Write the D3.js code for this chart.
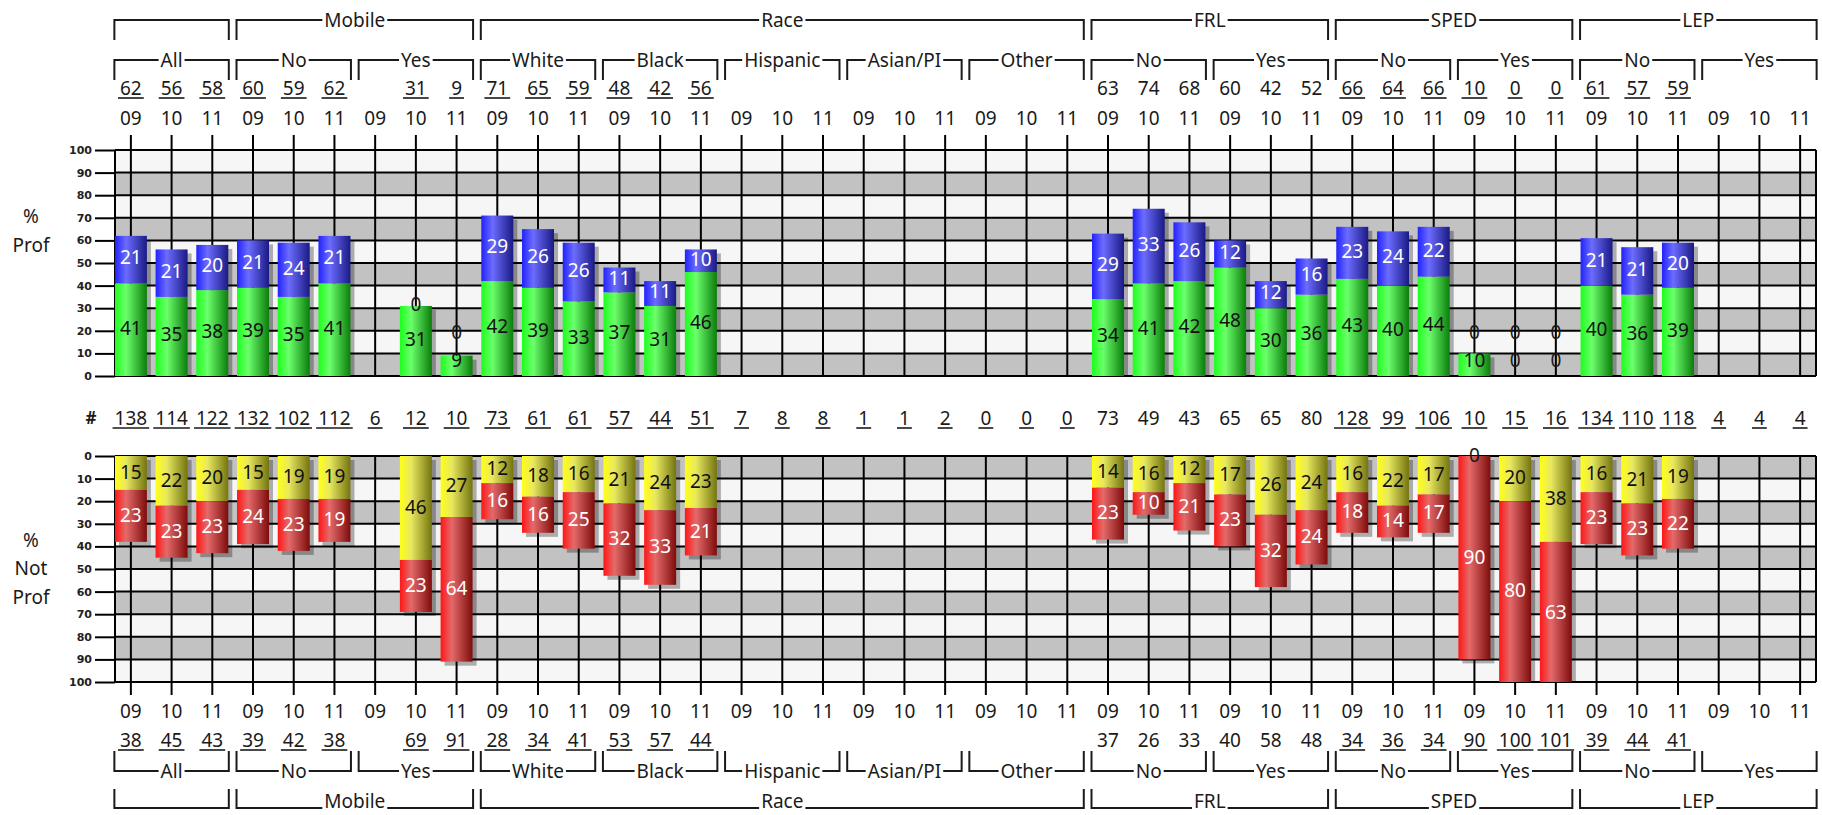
<!DOCTYPE html>
<html>
<head>
<meta charset="utf-8">
<script src="https://cdn.jsdelivr.net/npm/d3@7"></script>
<style>
    body { margin: 0; background: #fff; }
    text { font-family: "Noto Sans", sans-serif; fill: #1a1a1a; }
</style>
</head>
<body>
<div id="display"></div>
<script>
// ---- data ----
const groupNames = ['', 'Mobile', 'Race', 'FRL', 'SPED', 'LEP'];
const groupSubCount = [1, 2, 5, 2, 2, 2];
const subgroupNames = ['All', 'No', 'Yes', 'White', 'Black', 'Hispanic', 'Asian/PI', 'Other',
    'No', 'Yes', 'No', 'Yes', 'No', 'Yes'];
const years = ['09', '10', '11'];
// subgroups whose numbers are printed without underline (FRL)
const plainSubgroups = [8, 9];

const N = null;
// % proficient: lower (green) and upper (blue) segments, total above
const profLower = [41, 35, 38, 39, 35, 41, N, 31, 9, 42, 39, 33, 37, 31, 46,
    N, N, N, N, N, N, N, N, N, 34, 41, 42, 48, 30, 36, 43, 40, 44, 10, 0, 0, 40, 36, 39, N, N, N];
const profUpper = [21, 21, 20, 21, 24, 21, N, 0, 0, 29, 26, 26, 11, 11, 10,
    N, N, N, N, N, N, N, N, N, 29, 33, 26, 12, 12, 16, 23, 24, 22, 0, 0, 0, 21, 21, 20, N, N, N];
const profTotal = [62, 56, 58, 60, 59, 62, N, 31, 9, 71, 65, 59, 48, 42, 56,
    N, N, N, N, N, N, N, N, N, 63, 74, 68, 60, 42, 52, 66, 64, 66, 10, 0, 0, 61, 57, 59, N, N, N];
// number of students
const counts = [138, 114, 122, 132, 102, 112, 6, 12, 10, 73, 61, 61, 57, 44, 51,
    7, 8, 8, 1, 1, 2, 0, 0, 0, 73, 49, 43, 65, 65, 80, 128, 99, 106, 10, 15, 16, 134, 110, 118, 4, 4, 4];
// % not proficient: near (yellow) and far (red) segments, total below
const notProfNear = [15, 22, 20, 15, 19, 19, N, 46, 27, 12, 18, 16, 21, 24, 23,
    N, N, N, N, N, N, N, N, N, 14, 16, 12, 17, 26, 24, 16, 22, 17, 0, 20, 38, 16, 21, 19, N, N, N];
const notProfFar = [23, 23, 23, 24, 23, 19, N, 23, 64, 16, 16, 25, 32, 33, 21,
    N, N, N, N, N, N, N, N, N, 23, 10, 21, 23, 32, 24, 18, 14, 17, 90, 80, 63, 23, 23, 22, N, N, N];
const notProfTotal = [38, 45, 43, 39, 42, 38, N, 69, 91, 28, 34, 41, 53, 57, 44,
    N, N, N, N, N, N, N, N, N, 37, 26, 33, 40, 58, 48, 34, 36, 34, 90, 100, 101, 39, 44, 41, N, N, N];

// ---- layout ----
const W = 1822, H = 815;
const plotLeft = 115, plotRight = 1816;
const nCols = subgroupNames.length * years.length;
const barW = 32;

let svg = d3.select('#display')
    .append('svg')
        .attr('width', W)
        .attr('height', H);

let x = d3.scalePoint()
    .domain(d3.range(nCols))
    .range([plotLeft, plotRight])
    .padding(0.39);
let yTop = d3.scaleLinear().domain([0, 100]).range([376, 150]);
let yBot = d3.scaleLinear().domain([0, 100]).range([456, 682]);

// gradients for the cylinder look
let defs = svg.append('defs');
let gradients = {
    green: ['#1cff1c', '#6cff6c', '#0b7d0b'],
    blue: ['#2222ff', '#6c6cff', '#1a1a84'],
    red: ['#ff1616', '#e46a6a', '#7e0c0c'],
    yellow: ['#ffff18', '#e8e860', '#747410']
};
Object.entries(gradients).forEach(([k, c]) => {
    let g = defs.append('linearGradient').attr('id', 'g-' + k)
        .attr('x1', 0).attr('x2', 1).attr('y1', 0).attr('y2', 0);
    g.append('stop').attr('offset', '0%').attr('stop-color', c[0]);
    g.append('stop').attr('offset', '35%').attr('stop-color', c[1]);
    g.append('stop').attr('offset', '100%').attr('stop-color', c[2]);
});

[['clip-top', yTop], ['clip-bot', yBot]].forEach(([id, y]) => {
    defs.append('clipPath').attr('id', id)
        .append('rect')
            .attr('x', plotLeft).attr('width', plotRight - plotLeft)
            .attr('y', Math.min(y(0), y(100)))
            .attr('height', Math.abs(y(100) - y(0)));
});

// ---- plot backgrounds, grid, axes ----
function drawPlot(y, tickFrom, tickTo) {
    let g = svg.append('g');
    g.append('rect')
        .attr('x', plotLeft).attr('width', plotRight - plotLeft)
        .attr('y', Math.min(y(0), y(100))).attr('height', Math.abs(y(100) - y(0)))
        .attr('fill', '#f6f6f6');
    g.selectAll('.band')
        .data([0, 20, 40, 60, 80])
        .join('rect')
            .attr('x', plotLeft).attr('width', plotRight - plotLeft)
            .attr('y', d => Math.min(y(d), y(d + 10)))
            .attr('height', d => Math.abs(y(d + 10) - y(d)))
            .attr('fill', '#c2c2c2');
    g.selectAll('.hline')
        .data(d3.range(0, 101, 10))
        .join('line')
            .attr('x1', plotLeft).attr('x2', plotRight)
            .attr('y1', d => y(d)).attr('y2', d => y(d))
            .attr('stroke', '#000').attr('stroke-width', 2);
    g.selectAll('.vline')
        .data(d3.range(nCols))
        .join('line')
            .attr('x1', d => x(d)).attr('x2', d => x(d))
            .attr('y1', tickFrom).attr('y2', tickTo)
            .attr('stroke', '#000').attr('stroke-width', 2);
    [plotLeft, plotRight].forEach(px => {
        g.append('line')
            .attr('x1', px).attr('x2', px)
            .attr('y1', y(0)).attr('y2', y(100))
            .attr('stroke', '#000').attr('stroke-width', 2);
    });

    let axis = svg.append('g')
        .attr('transform', 'translate(' + plotLeft + ',0)')
        .call(d3.axisLeft(y).tickValues(d3.range(0, 101, 10)).tickSize(20).tickPadding(3));
    axis.select('.domain').remove();
    axis.selectAll('line').attr('stroke', '#000').attr('stroke-width', 2);
    axis.selectAll('text')
        .style('font-family', '"DejaVu Sans", sans-serif')
        .style('font-weight', 'bold')
        .style('font-size', '11px')
        .style('fill', '#222');
}

drawPlot(yTop, 135, yTop(0));
drawPlot(yBot, yBot(0), 695);

// ---- bars ----
let cols = d3.range(nCols).map(i => ({
    i: i,
    sub: Math.floor(i / 3),
    pl: profLower[i], pu: profUpper[i], pt: profTotal[i],
    nn: notProfNear[i], nf: notProfFar[i], nt: notProfTotal[i],
    n: counts[i]
}));

function drawStack(y, clipId, segs, labelFn) {
    let g = svg.append('g').attr('clip-path', 'url(#' + clipId + ')');
    let labels = svg.append('g');
    cols.forEach(c => {
        let s = segs(c);
        if (s[0].v === null) return;
        let total = s[0].v + s[1].v;
        let top = y(total), base = y(0);
        g.append('rect')
            .attr('x', x(c.i) - barW / 2 + 4)
            .attr('y', Math.min(top, base) + 4)
            .attr('width', barW)
            .attr('height', Math.abs(base - top))
            .attr('fill', '#000').attr('opacity', 0.3);
        let acc = 0;
        s.forEach(seg => {
            let a = y(acc), b = y(acc + seg.v);
            g.append('rect')
                .attr('x', x(c.i) - barW / 2)
                .attr('y', Math.min(a, b))
                .attr('width', barW)
                .attr('height', Math.abs(b - a))
                .attr('fill', 'url(#g-' + seg.color + ')');
            acc += seg.v;
        });
        labelFn(c, s).forEach((ly, k) => {
            labels.append('text')
                .attr('x', x(c.i))
                .attr('y', ly)
                .attr('dy', '0.36em')
                .attr('text-anchor', 'middle')
                .style('font-size', '19px')
                .style('fill', s[k].v === 0 ? '#1a1a1a' : s[k].text)
                .text(s[k].v);
        });
    });
}

// top: labels pushed up so they do not sit below the axis or on each other
drawStack(yTop, 'clip-top',
    c => [{v: c.pl, color: 'green', text: '#111'}, {v: c.pu, color: 'blue', text: '#fff'}],
    (c, s) => {
        let l1 = Math.min(yTop(s[0].v / 2) - 2, yTop(0) - 16);
        let l2 = Math.min(yTop(s[0].v + s[1].v / 2) - 2, l1 - 28);
        return [l1, l2];
    });

drawStack(yBot, 'clip-bot',
    c => [{v: c.nn, color: 'yellow', text: '#111'}, {v: c.nf, color: 'red', text: '#fff'}],
    (c, s) => [yBot(s[0].v / 2) - 1, yBot(s[0].v + s[1].v / 2) - 1]);

// ---- text rows ----
function numberRow(y, values, opts) {
    let g = svg.append('g');
    values.forEach((v, i) => {
        if (v === null) return;
        let t = g.append('text')
            .attr('x', x(i)).attr('y', y).attr('dy', '0.36em')
            .attr('text-anchor', 'middle')
            .style('font-size', '19px')
            .text(v);
        if (opts.underline && !plainSubgroups.includes(Math.floor(i / 3))) {
            let w = t.node().getComputedTextLength();
            g.append('line')
                .attr('x1', x(i) - w / 2 - 2).attr('x2', x(i) + w / 2 + 2)
                .attr('y1', y + 10).attr('y2', y + 10)
                .attr('stroke', '#1a1a1a').attr('stroke-width', 1.6);
        }
    });
}

let yearLabels = d3.range(nCols).map(i => years[i % 3]);
numberRow(88, profTotal, {underline: true});
numberRow(118, yearLabels, {underline: false});
numberRow(418, counts, {underline: true});
numberRow(711, yearLabels, {underline: false});
numberRow(740, notProfTotal, {underline: true});

// ---- brackets ----
function bracket(first, last, lineY, tickY, label, textY) {
    let x0 = x(first) - 16.5, x1 = x(last) + 16.5;
    let g = svg.append('g');
    g.append('path')
        .attr('d', 'M' + x0 + ',' + tickY + 'V' + lineY + 'H' + x1 + 'V' + tickY)
        .attr('fill', 'none').attr('stroke', '#1a1a1a').attr('stroke-width', 2);
    if (!label) return;
    let ty = textY === undefined ? lineY : textY;
    let t = g.append('text')
        .attr('x', (x0 + x1) / 2).attr('y', ty).attr('dy', '0.36em')
        .attr('text-anchor', 'middle')
        .style('font-size', '19px')
        .text(label);
    let bb = t.node().getBBox();
    g.insert('rect', 'text')
        .attr('x', bb.x - 2).attr('width', bb.width + 4)
        .attr('y', lineY - 3).attr('height', 6)
        .attr('fill', '#fff');
}

subgroupNames.forEach((name, s) => {
    bracket(s * 3, s * 3 + 2, 60, 80, name);
    bracket(s * 3, s * 3 + 2, 771, 751, name);
});
let start = 0;
groupNames.forEach((name, k) => {
    let end = start + groupSubCount[k] * 3 - 1;
    bracket(start, end, 20, 40, name);
    bracket(start, end, 808, 789, name, 801);
    start = end + 1;
});

// ---- side labels ----
let side = svg.append('g').attr('text-anchor', 'middle').style('font-size', '19px');
[['%', 216], ['Prof', 245], ['%', 540], ['Not', 568], ['Prof', 597]].forEach(d => {
    side.append('text').attr('x', 31).attr('y', d[1]).attr('dy', '0.36em').text(d[0]);
});
svg.append('text')
    .attr('x', 91).attr('y', 418).attr('dy', '0.36em')
    .attr('text-anchor', 'middle')
    .style('font-size', '17px').style('font-weight', 'bold')
    .text('#');
</script>
</body>
</html>
